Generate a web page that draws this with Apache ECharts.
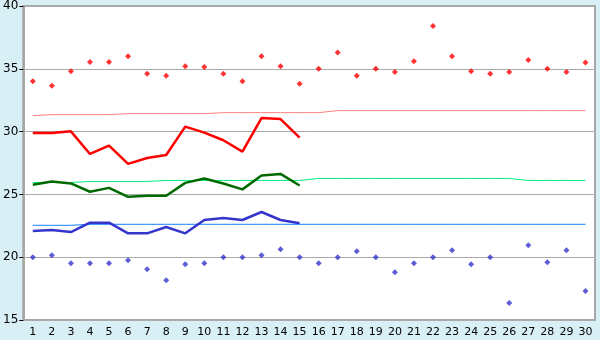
<!DOCTYPE html>
<html><head><meta charset="utf-8">
<script src="https://cdn.jsdelivr.net/npm/echarts@6/dist/echarts.min.js"></script>
<style>html,body{margin:0;padding:0;background:#d9eff6;}#c{width:600px;height:340px;}</style>
</head><body><div id="c"></div>
<script>
const categories = Array.from({length:30},(_,i)=>String(i+1));
const yTicks = [15,20,25,30,35,40];
const highPts = [34.0,33.65,34.8,35.55,35.55,36.0,34.6,34.45,35.2,35.15,34.6,34.0,36.0,35.2,33.8,35.0,36.3,34.45,35.0,34.75,35.6,38.4,36.0,34.8,34.6,34.75,35.7,35.0,34.75,35.5];
const lowPts = [20.0,20.16,19.52,19.52,19.52,19.76,19.05,18.17,19.44,19.52,20.0,20.0,20.16,20.63,20.0,19.52,20.0,20.48,20.0,18.81,19.52,20.0,20.56,19.44,20.0,16.35,20.95,19.6,20.56,17.3];
const highNormal = [31.27,31.35,31.35,31.35,31.35,31.43,31.43,31.43,31.43,31.43,31.51,31.51,31.51,31.51,31.51,31.51,31.67,31.67,31.67,31.67,31.67,31.67,31.67,31.67,31.67,31.67,31.67,31.67,31.67,31.67];
const meanNormal = [25.95,25.95,25.95,26.03,26.03,26.03,26.03,26.11,26.11,26.11,26.11,26.11,26.11,26.11,26.11,26.27,26.27,26.27,26.27,26.27,26.27,26.27,26.27,26.27,26.27,26.27,26.11,26.11,26.11,26.11];
const lowNormal = [22.54,22.54,22.54,22.62,22.62,22.62,22.62,22.62,22.62,22.62,22.62,22.62,22.62,22.62,22.62,22.62,22.62,22.62,22.62,22.62,22.62,22.62,22.62,22.62,22.62,22.62,22.62,22.62,22.62,22.62];
const highActual = [29.89,29.89,30.02,28.22,28.89,27.43,27.9,28.14,30.4,29.92,29.31,28.41,31.08,31.0,29.52];
const meanActual = [25.76,26.03,25.87,25.21,25.52,24.81,24.89,24.89,25.92,26.27,25.87,25.4,26.5,26.63,25.71];
const lowActual = [22.09,22.17,22.0,22.75,22.75,21.9,21.9,22.4,21.9,22.96,23.12,22.96,23.6,22.96,22.7];

const chart = echarts.init(document.getElementById('c'), null, {renderer:'canvas'});
const font = 'DejaVu Sans';
function line(data, color, width, z){
  return {type:'line', data, symbol:'none', lineStyle:{color, width}, itemStyle:{color}, z, animation:false, silent:true};
}
function pts(data, color){
  return {type:'scatter', data, symbol:'diamond', symbolSize:6, itemStyle:{color}, z:5, animation:false, silent:true};
}
chart.setOption({
  backgroundColor:'#d9eff6',
  animation:false,
  grid:{left:19.7, right:5, top:5, bottom:20, show:true, backgroundColor:'#ffffff', borderColor:'#a6a6a6', borderWidth:2},
  xAxis:{type:'category', data:categories, boundaryGap:true,
    axisLine:{show:false},
    axisTick:{alignWithLabel:true, length:5, lineStyle:{color:'#000'}},
    axisLabel:{color:'#000', fontFamily:font, fontSize:11, margin:7, interval:0},
    splitLine:{show:false}},
  yAxis:{type:'value', min:15, max:40, interval:5,
    axisLine:{show:true, lineStyle:{color:'#a6a6a6', width:2}},
    axisTick:{show:true, length:4, lineStyle:{color:'#000'}},
    axisLabel:{color:'#000', fontFamily:font, fontSize:12, margin:5},
    splitLine:{show:true, lineStyle:{color:'#aaaaaa', width:1}}},
  series:[
    line(highNormal,'#ff8080',1,2),
    line(meanNormal,'#00f080',1,2),
    line(lowNormal,'#1080ff',1,2),
    line(highActual,'#ff0000',2.5,3),
    line(meanActual,'#006a00',2.5,3),
    line(lowActual,'#3535cc',2.5,3),
    pts(highPts,'#ff0000'),
    pts(lowPts,'#3535cc')
  ]
});
</script></body></html>
